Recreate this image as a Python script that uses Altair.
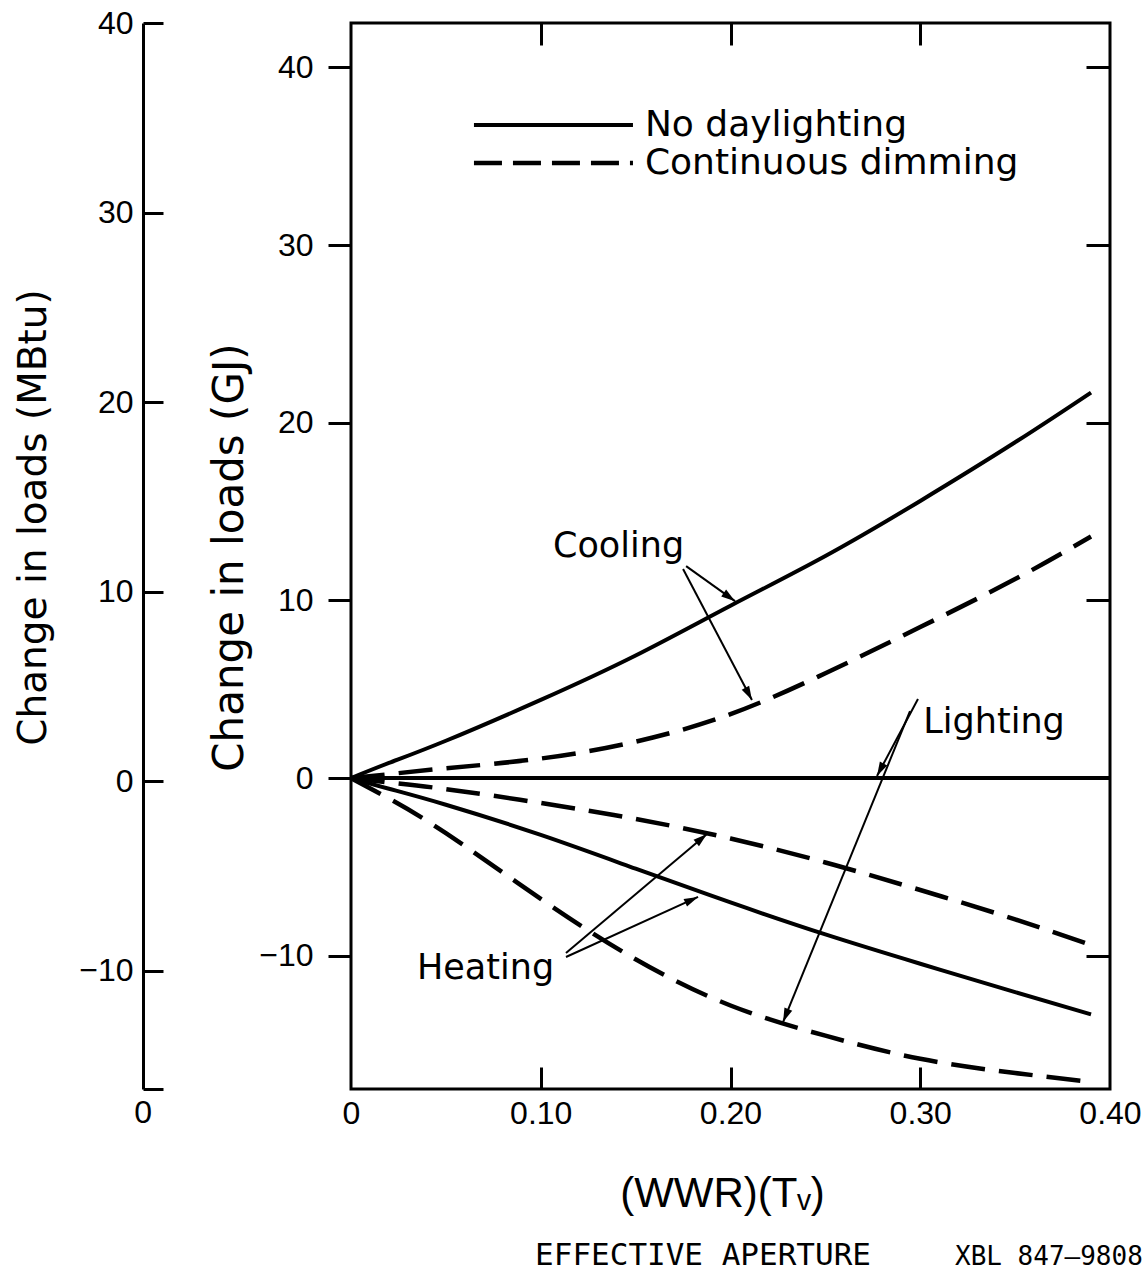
import math
import altair as alt
import pandas as pd

# ---------------- data ----------------
x_vals = [0.00, 0.02, 0.05, 0.10, 0.15, 0.20, 0.25, 0.30, 0.35, 0.39]
cooling_no_daylight = [0.0, 0.85, 2.1, 4.4, 6.9, 9.7, 12.5, 15.6, 18.9, 21.7]
cooling_dimming = [0.0, 0.22, 0.55, 1.1, 2.05, 3.6, 5.9, 8.5, 11.2, 13.6]
heating_no_daylight = [0.0, -0.6, -1.5, -3.2, -5.1, -7.0, -8.8, -10.45, -12.05, -13.3]
heating_dimming = [0.0, -0.25, -0.62, -1.4, -2.3, -3.4, -4.75, -6.3, -7.95, -9.4]
lighting_dimming = [0.0, -1.15, -3.1, -6.8, -10.2, -12.8, -14.5, -15.8, -16.6, -17.1]
lighting_no_daylight_x = [0.0, 0.40]
lighting_no_daylight = [0.0, 0.0]

x_ticks = [0.0, 0.10, 0.20, 0.30, 0.40]
inner_x_ticks = [0.10, 0.20, 0.30]
gj_ticks = [-10, 0, 10, 20, 30, 40]
mbtu_ticks = [-16.25, -10, 0, 10, 20, 30, 40]

X_DOMAIN = [0.0, 0.40]
GJ_DOMAIN = [-17.5, 42.5]
MBTU_DOMAIN = [-16.25, 40]

# annotation labels (data coordinates)
label_text = ["Cooling", "Lighting", "Heating"]
label_x = [0.1410, 0.3389, 0.0709]
label_y = [12.44, 2.54, -11.31]

# arrows: start -> tip (data coordinates)
arrow_x1 = [0.1766, 0.1750, 0.2988, 0.2946, 0.1133, 0.1133]
arrow_y1 = [11.93, 11.77, 4.45, 3.77, -9.85, -10.07]
arrow_x2 = [0.2024, 0.2113, 0.2772, 0.2277, 0.1876, 0.1829]
arrow_y2 = [9.96, 4.39, 0.12, -13.73, -3.15, -6.69]

# in-plot legend
legend_labels = ["No daylighting", "Continuous dimming"]
legend_x1 = [0.0648, 0.0648]
legend_x2 = [0.1486, 0.1486]
legend_y = [36.76, 34.62]
legend_text_x = [0.1549, 0.1549]

# footer texts
footer_main = ["EFFECTIVE APERTURE"]
footer_main_x = [0.0970]
footer_main_y = [-27.4]
footer_code = ["XBL 847–9808"]
footer_code_x = [0.3183]
footer_code_y = [-27.4]

mbtu_zero_label = ["0"]
mbtu_zero_x = [-0.1096]
mbtu_zero_y = [-18.85]

W, H = 759, 1066

# ---------------- tables ----------------
solid_rows = []
for name, ys in [("Cooling", cooling_no_daylight), ("Heating", heating_no_daylight)]:
    for xv, yv in zip(x_vals, ys):
        solid_rows.append({"series": name, "x": xv, "y": yv})
for xv, yv in zip(lighting_no_daylight_x, lighting_no_daylight):
    solid_rows.append({"series": "Lighting", "x": xv, "y": yv})
solid_df = pd.DataFrame(solid_rows)

dashed_rows = []
for name, ys in [("Cooling", cooling_dimming), ("Heating", heating_dimming), ("Lighting", lighting_dimming)]:
    for xv, yv in zip(x_vals, ys):
        dashed_rows.append({"series": name, "x": xv, "y": yv})
dashed_df = pd.DataFrame(dashed_rows)

px_x = W / (X_DOMAIN[1] - X_DOMAIN[0])
px_y = H / (GJ_DOMAIN[1] - GJ_DOMAIN[0])
HEAD = 14.0
arrow_rows = []
for x1, y1, x2, y2 in zip(arrow_x1, arrow_y1, arrow_x2, arrow_y2):
    dxp = (x2 - x1) * px_x
    dyp = -(y2 - y1) * px_y
    L = math.hypot(dxp, dyp)
    ux, uy = dxp / L, dyp / L
    ang = math.degrees(math.atan2(dxp, -dyp)) % 360
    hx = x2 - (HEAD / 2) * ux / px_x
    hy = y2 + (HEAD / 2) * uy / px_y
    arrow_rows.append({"x1": x1, "y1": y1, "x2": x2, "y2": y2, "hx": hx, "hy": hy, "angle": ang})
arrow_df = pd.DataFrame(arrow_rows)

labels_df = pd.DataFrame({"text": label_text, "x": label_x, "y": label_y})
legend_df = pd.DataFrame({"label": legend_labels, "x1": legend_x1, "x2": legend_x2,
                          "y": legend_y, "tx": legend_text_x})
footer_main_df = pd.DataFrame({"text": footer_main, "x": footer_main_x, "y": footer_main_y})
footer_code_df = pd.DataFrame({"text": footer_code, "x": footer_code_x, "y": footer_code_y})
mbtu_zero_df = pd.DataFrame({"text": mbtu_zero_label, "x": mbtu_zero_x, "y": mbtu_zero_y})
mbtu_df = pd.DataFrame({"mbtu": mbtu_ticks})


def xs():
    return alt.Scale(domain=X_DOMAIN, nice=False, zero=False)


def ys():
    return alt.Scale(domain=GJ_DOMAIN, nice=False, zero=False)


LABEL_FONT = "Liberation Sans"
TEXT_FONT = "DejaVu Sans"

# ---------------- layers ----------------
solid = alt.Chart(solid_df).mark_line(
    color="black", strokeWidth=4, interpolate="natural", clip=True
).encode(
    x=alt.X("x:Q", scale=xs(), axis=alt.Axis(
        orient="bottom", values=x_ticks, ticks=False, domain=False,
        labelExpr="datum.value == 0 ? '0' : format(datum.value, '.2f')",
        labelFont=LABEL_FONT, labelFontSize=32, labelPadding=9, labelBaseline="top",
        labelFlush=False, labelOverlap=False,
        title="(WWR)(Tᵥ)", titleFont=LABEL_FONT, titleFontSize=42, titleFontWeight="normal",
        titleX=371, titleY=104, titleAlign="center", titleBaseline="middle")),
    y=alt.Y("y:Q", scale=ys(), axis=alt.Axis(
        orient="left", values=gj_ticks, tickSize=23, domain=False,
        labelFont=LABEL_FONT, labelFontSize=32, labelPadding=15, labelOverlap=False,
        labelFlush=False, labelBaseline="middle",
        title="Change in loads (GJ)", titleFont=TEXT_FONT, titleFontSize=42,
        titleFontWeight="normal", titleAngle=270, titleX=-122, titleY=534,
        titleAlign="center", titleBaseline="middle")),
    detail="series:N",
)

dashed = alt.Chart(dashed_df).mark_line(
    color="black", strokeWidth=4.5, strokeDash=[34, 14], interpolate="natural", clip=True
).encode(
    x=alt.X("x:Q", scale=xs(), axis=alt.Axis(
        orient="top", offset=-H, values=inner_x_ticks, tickSize=22,
        labels=False, domain=False, title=None)),
    y=alt.Y("y:Q", scale=ys(), axis=alt.Axis(
        orient="left", offset=-W, values=gj_ticks, tickSize=24,
        labels=False, domain=False, title=None)),
    detail="series:N",
)

legend_solid = alt.Chart(legend_df.iloc[[0]]).mark_rule(color="black", strokeWidth=4).encode(
    x=alt.X("x1:Q", scale=xs(), axis=alt.Axis(
        orient="bottom", offset=-H, values=inner_x_ticks, tickSize=22,
        labels=False, domain=False, title=None)),
    x2="x2:Q",
    y=alt.Y("y:Q", scale=ys(), axis=None),
)

legend_dashed = alt.Chart(legend_df.iloc[[1]]).mark_rule(
    color="black", strokeWidth=4.5, strokeDash=[28, 11]
).encode(
    x=alt.X("x1:Q", scale=xs(), axis=None),
    x2="x2:Q",
    y=alt.Y("y:Q", scale=ys(), axis=None),
)

legend_text = alt.Chart(legend_df).mark_text(
    align="left", baseline="middle", font=TEXT_FONT, fontSize=36, color="black"
).encode(
    x=alt.X("tx:Q", scale=xs(), axis=None),
    y=alt.Y("y:Q", scale=ys(), axis=None),
    text="label:N",
)

mbtu_axis = alt.Chart(mbtu_df).mark_point(opacity=0).encode(
    x=alt.value(0),
    y=alt.Y("mbtu:Q", scale=alt.Scale(domain=MBTU_DOMAIN, nice=False, zero=False),
            axis=alt.Axis(
                orient="right", offset=-(W + 208), values=mbtu_ticks, tickSize=20,
                domain=True, domainWidth=3,
                labelExpr="datum.value < -15 ? '' : datum.label",
                labelAlign="right", labelPadding=-30, labelBaseline="middle",
                labelFont=LABEL_FONT, labelFontSize=32, labelOverlap=False, labelFlush=False,
                title="Change in loads (MBtu)", titleFont=TEXT_FONT, titleFontSize=39,
                titleFontWeight="normal", titleAngle=270, titleX=-110, titleY=494,
                titleAlign="center", titleBaseline="middle")),
)

mbtu_zero = alt.Chart(mbtu_zero_df).mark_text(
    align="center", baseline="middle", font=LABEL_FONT, fontSize=32, color="black"
).encode(
    x=alt.X("x:Q", scale=xs(), axis=None),
    y=alt.Y("y:Q", scale=ys(), axis=None),
    text="text:N",
)

arrows = alt.Chart(arrow_df).mark_rule(color="black", strokeWidth=2).encode(
    x=alt.X("x1:Q", scale=xs(), axis=None),
    y=alt.Y("y1:Q", scale=ys(), axis=None),
    x2="x2:Q",
    y2="y2:Q",
)

heads = alt.Chart(arrow_df).mark_point(
    shape="M0,-1L0.6,1L-0.6,1Z", filled=True, color="black", size=HEAD * HEAD,
    opacity=1, strokeWidth=0
).encode(
    x=alt.X("hx:Q", scale=xs(), axis=None),
    y=alt.Y("hy:Q", scale=ys(), axis=None),
    angle=alt.Angle("angle:Q", scale=None),
)

labels = alt.Chart(labels_df).mark_text(
    align="center", baseline="alphabetic", font=TEXT_FONT, fontSize=35, color="black"
).encode(
    x=alt.X("x:Q", scale=xs(), axis=None),
    y=alt.Y("y:Q", scale=ys(), axis=None),
    text="text:N",
)

footer1 = alt.Chart(footer_main_df).mark_text(
    align="left", baseline="alphabetic", font="DejaVu Sans Mono", fontSize=31, color="black"
).encode(
    x=alt.X("x:Q", scale=xs(), axis=None),
    y=alt.Y("y:Q", scale=ys(), axis=None),
    text="text:N",
)

footer2 = alt.Chart(footer_code_df).mark_text(
    align="left", baseline="alphabetic", font="DejaVu Sans Mono", fontSize=26, color="black"
).encode(
    x=alt.X("x:Q", scale=xs(), axis=None),
    y=alt.Y("y:Q", scale=ys(), axis=None),
    text="text:N",
)

chart = alt.layer(
    solid, dashed, legend_solid, mbtu_axis, legend_dashed, legend_text,
    arrows, heads, labels, footer1, footer2, mbtu_zero
).resolve_scale(
    x="independent", y="independent"
).properties(
    width=W, height=H,
    padding={"left": 351, "top": 23, "right": 35, "bottom": 190},
    autosize=alt.AutoSizeParams(type="none"),
    background="white",
).configure_view(
    stroke="black", strokeWidth=3
).configure_axis(
    grid=False, tickColor="black", tickWidth=3, domainColor="black",
    labelColor="black", titleColor="black"
)

chart.save("out.html", embed_options={"renderer": "svg", "actions": False})
